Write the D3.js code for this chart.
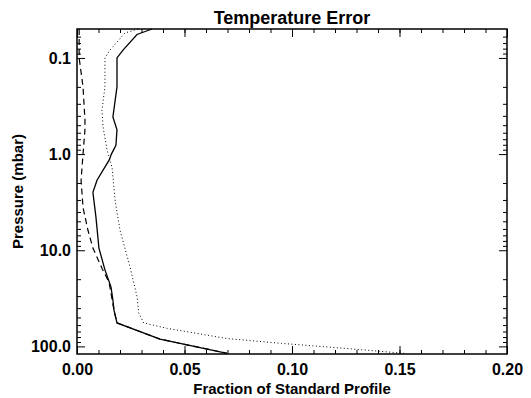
<!DOCTYPE html>
<html>
<head>
<meta charset="utf-8">
<script src="https://cdn.jsdelivr.net/npm/d3@7"></script>
<style>
  body { margin: 0; background: #fff; }
  text { font-family: "Liberation Sans", Arial, Helvetica, sans-serif; font-weight: bold; fill: #000; }
</style>
</head>
<body>
<div id="chart"></div>
<script>
// pressure levels (mbar) and fraction values, one pair of arrays per curve
const solidP = [0.05, 0.057, 0.083, 0.1, 0.2, 0.41, 0.56, 0.81, 1.0, 1.15, 1.87, 2.5, 4.5, 9.5, 16, 24, 33, 42, 57, 84, 118];
const solidV = [0.0349, 0.0279, 0.0214, 0.0186, 0.0186, 0.0167, 0.0186, 0.0181, 0.0160, 0.0150, 0.0093, 0.0074, 0.0088, 0.0102, 0.0130, 0.0158, 0.0167, 0.0172, 0.0186, 0.0386, 0.0698];

const dottedP = [0.05, 0.055, 0.083, 0.1, 0.2, 0.35, 0.52, 0.91, 1.37, 3.0, 6.2, 15, 31, 45, 57, 65, 83, 93, 105, 118];
const dottedV = [0.0284, 0.0223, 0.0153, 0.0130, 0.0130, 0.0116, 0.0121, 0.0140, 0.0163, 0.0177, 0.0200, 0.0247, 0.0280, 0.0287, 0.0310, 0.0420, 0.0700, 0.0950, 0.1250, 0.1520];

const dashedP = [0.05, 0.1, 0.2, 0.44, 0.56, 1.0, 1.87, 3.6, 6.2, 9.5, 15.4, 21.5, 42, 57, 84, 118];
const dashedV = [0.0010, 0.0010, 0.0028, 0.0037, 0.0037, 0.0028, 0.0019, 0.0028, 0.0051, 0.0074, 0.0116, 0.0149, 0.0172, 0.0186, 0.0386, 0.0698];

const xMajor = [0, 0.05, 0.10, 0.15, 0.20];
const xMinor = d3.range(0, 21).map(d => d / 100);
const yMajor = [0.1, 1, 10, 100];
const yMinor = [0.06, 0.07, 0.08, 0.09,
  0.2, 0.3, 0.4, 0.5, 0.6, 0.7, 0.8, 0.9,
  2, 3, 4, 5, 6, 7, 8, 9,
  20, 30, 40, 50, 60, 70, 80, 90];
const yLabels = ['0.1', '1.0', '10.0', '100.0'];

const width = 531, height = 398;
const m = {left: 77, right: 507, top: 29, bottom: 354};

const svg = d3.select('#chart').append('svg')
  .attr('width', width)
  .attr('height', height);

const x = d3.scaleLinear().domain([0, 0.2]).range([m.left, m.right]);
const y = d3.scaleLog().domain([0.05, 120]).range([m.top, m.bottom]);

// ticks point inward on all four sides
function addAxis(axis, transform, values, size, labels){
  let g = svg.append('g').attr('transform', transform)
    .call(axis.tickValues(values).tickSize(-size).tickFormat(labels || ''));
  g.select('.domain').remove();
  g.selectAll('line').attr('stroke', '#000').attr('stroke-width', 1);
  return g;
}

addAxis(d3.axisBottom(x), `translate(0,${m.bottom})`, xMinor, 4);
addAxis(d3.axisTop(x), `translate(0,${m.top})`, xMinor, 4);
addAxis(d3.axisTop(x), `translate(0,${m.top})`, xMajor, 8);
let xb = addAxis(d3.axisBottom(x).tickPadding(10), `translate(0,${m.bottom})`, xMajor, 8, d3.format('.2f'));
xb.selectAll('text').style('font-size', '16px');

addAxis(d3.axisLeft(y), `translate(${m.left},0)`, yMinor, 4);
addAxis(d3.axisRight(y), `translate(${m.right},0)`, yMinor, 4);
addAxis(d3.axisRight(y), `translate(${m.right},0)`, yMajor, 8);
let yl = addAxis(d3.axisLeft(y).tickPadding(6), `translate(${m.left},0)`, yMajor, 8, (d, i) => yLabels[i]);
yl.selectAll('text').style('font-size', '16px');

svg.append('rect')
  .attr('x', m.left).attr('y', m.top)
  .attr('width', m.right - m.left).attr('height', m.bottom - m.top)
  .attr('fill', 'none')
  .attr('stroke', '#000')
  .attr('stroke-width', 1.5);

const line = d3.line()
  .x(d => x(d[1]))
  .y(d => y(d[0]));

svg.append('path')
  .datum(d3.zip(dottedP, dottedV))
  .attr('d', line)
  .attr('fill', 'none')
  .attr('stroke', '#000')
  .attr('stroke-width', 1)
  .attr('stroke-dasharray', '1,2.5');

svg.append('path')
  .datum(d3.zip(dashedP, dashedV))
  .attr('d', line)
  .attr('fill', 'none')
  .attr('stroke', '#000')
  .attr('stroke-width', 1.2)
  .attr('stroke-dasharray', '6,4');

svg.append('path')
  .datum(d3.zip(solidP, solidV))
  .attr('d', line)
  .attr('fill', 'none')
  .attr('stroke', '#000')
  .attr('stroke-width', 1.3);

svg.append('text')
  .attr('x', (m.left + m.right) / 2)
  .attr('y', 24)
  .attr('text-anchor', 'middle')
  .style('font-size', '18px')
  .text('Temperature Error');

svg.append('text')
  .attr('x', (m.left + m.right) / 2)
  .attr('y', 394)
  .attr('text-anchor', 'middle')
  .style('font-size', '15px')
  .text('Fraction of Standard Profile');

svg.append('text')
  .attr('transform', `translate(23,${(m.top + m.bottom) / 2}) rotate(-90)`)
  .attr('text-anchor', 'middle')
  .style('font-size', '15px')
  .text('Pressure (mbar)');
</script>
</body>
</html>
